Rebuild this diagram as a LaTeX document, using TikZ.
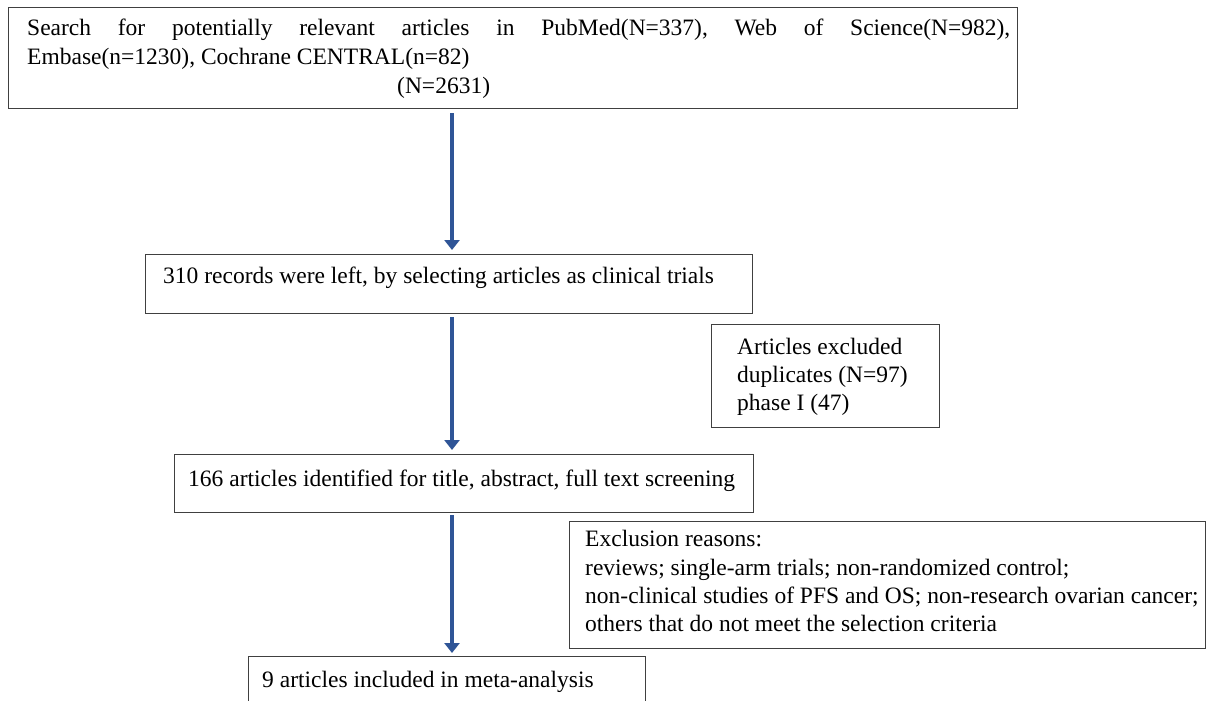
\documentclass[tikz,border=0pt]{standalone}
\usepackage{fontspec}
\setmainfont{Liberation Serif}
\usetikzlibrary{arrows.meta}
\definecolor{arrblue}{RGB}{47,85,151}
\definecolor{boxline}{RGB}{64,64,64}
\begin{document}
\begin{tikzpicture}[x=1pt,y=-1pt,
  box/.style={draw=boxline,line width=1.4pt,rectangle,inner sep=0pt,anchor=north west},
  txt/.style={anchor=base west,inner sep=0pt,font=\fontsize{23.5}{28}\selectfont},
  arr/.style={draw=arrblue,line width=4.5pt,-{Triangle[width=15pt,length=10pt]}}]
\useasboundingbox (0,0) rectangle (1207,701);
\clip (0,0) rectangle (1207,701);
\fill[white] (0,0) rectangle (1207,701);
% boxes
\node[box,minimum width=1009pt,minimum height=101pt] (b1) at (8,7) {};
\node[box,minimum width=607pt,minimum height=59pt] (b2) at (145,254) {};
\node[box,minimum width=228pt,minimum height=103pt] (ex1) at (711,324) {};
\node[box,minimum width=579pt,minimum height=58pt] (b3) at (174,454) {};
\node[box,minimum width=636pt,minimum height=127pt] (ex2) at (569,521) {};
\node[box,minimum width=397pt,minimum height=70pt] (b4) at (248,656) {};
% texts
\node[txt] (t1a) at (27,36) {\hbox to 983pt{Search\hfill for\hfill potentially\hfill relevant\hfill articles\hfill in\hfill PubMed(N=337),\hfill Web\hfill of\hfill Science(N=982),}};
\node[txt] (t1b) at (27,64) {Embase(n=1230), Cochrane CENTRAL(n=82)};
\node[txt] (t1c) at (397,93) {(N=2631)};
\node[txt] (t2) at (163,283) {310 records were left, by selecting articles as clinical trials};
\node[txt] (t3a) at (737,354) {Articles excluded};
\node[txt] (t3b) at (737,382) {duplicates (N=97)};
\node[txt] (t3c) at (737,410) {phase I (47)};
\node[txt] (t4) at (188,486) {166 articles identified for title, abstract, full text screening};
\node[txt] (t5a) at (585,546) {Exclusion reasons:};
\node[txt] (t5b) at (585,575) {reviews; single-arm trials; non-randomized control;};
\node[txt] (t5c) at (585,603) {non-clinical studies of PFS and OS; non-research ovarian cancer;};
\node[txt] (t5d) at (585,631) {others that do not meet the selection criteria};
\node[txt] (t6) at (262,687) {9 articles included in meta-analysis};
% arrows
\coordinate (ax) at (452,0);
\draw[arr,shorten <=4pt,shorten >=4pt] (b1.south -| ax) -- (b2.north -| ax);
\draw[arr,shorten <=3pt,shorten >=4pt] (b2.south -| ax) -- (b3.north -| ax);
\draw[arr,shorten <=2pt,shorten >=3pt] (b3.south -| ax) -- (b4.north -| ax);
\end{tikzpicture}
\end{document}
